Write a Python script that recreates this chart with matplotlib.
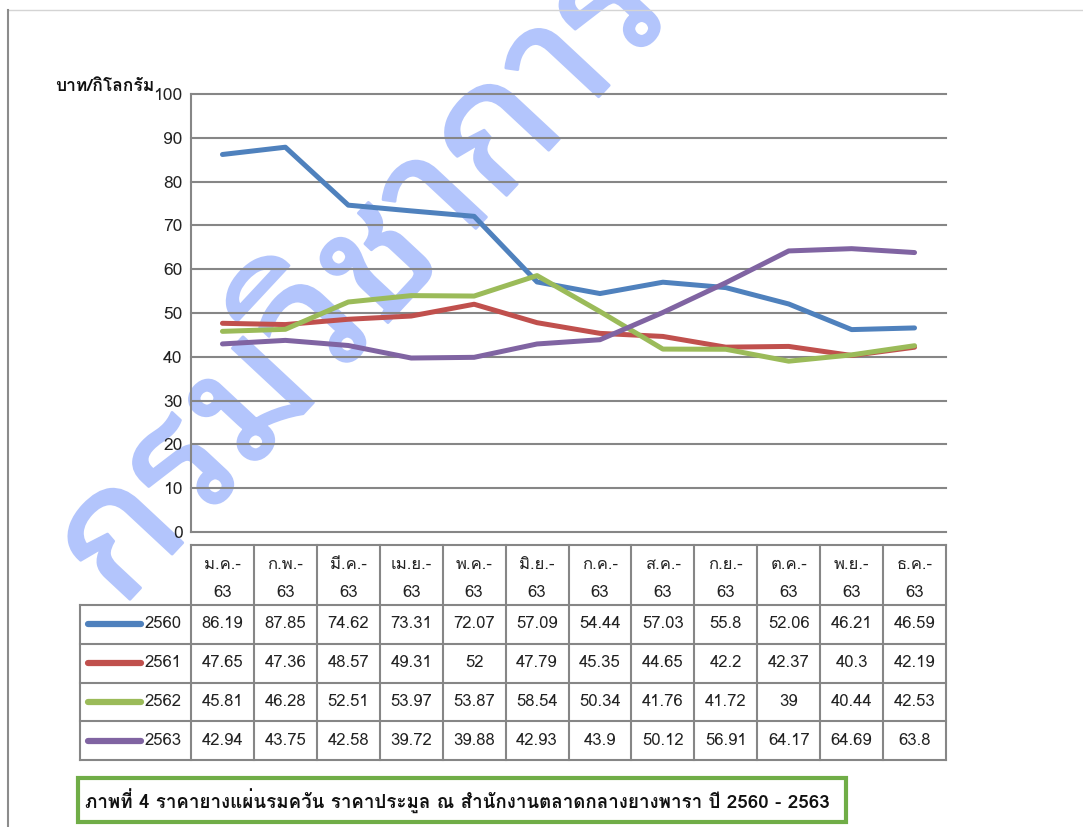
import matplotlib
matplotlib.use("Agg")
import matplotlib.pyplot as plt
import matplotlib.patheffects as pe
from matplotlib.patches import Rectangle
from matplotlib.lines import Line2D

plt.rcParams['font.family'] = ['Loma', 'Noto Sans Thai Looped', 'DejaVu Sans']

# data
months = ['ม.ค.', 'ก.พ.', 'มี.ค.', 'เม.ย.', 'พ.ค.', 'มิ.ย.',
          'ก.ค.', 'ส.ค.', 'ก.ย.', 'ต.ค.', 'พ.ย.', 'ธ.ค.']
year_suffix = '63'
series_names = ['2560', '2561', '2562', '2563']
v2560 = [86.19, 87.85, 74.62, 73.31, 72.07, 57.09, 54.44, 57.03, 55.8, 52.06, 46.21, 46.59]
v2561 = [47.65, 47.36, 48.57, 49.31, 52, 47.79, 45.35, 44.65, 42.2, 42.37, 40.3, 42.19]
v2562 = [45.81, 46.28, 52.51, 53.97, 53.87, 58.54, 50.34, 41.76, 41.72, 39, 40.44, 42.53]
v2563 = [42.94, 43.75, 42.58, 39.72, 39.88, 42.93, 43.9, 50.12, 56.91, 64.17, 64.69, 63.8]
series_vals = [v2560, v2561, v2562, v2563]
colors = ['#4F81BD', '#C0504D', '#9BBB59', '#8064A2']
yticks = list(range(0, 101, 10))
ylabel = 'บาท/กิโลกรัม'
caption = 'ภาพที่ 4 ราคายางแผ่นรมควัน ราคาประมูล ณ สำนักงานตลาดกลางยางพารา ปี 2560 - 2563'
watermark = 'กรมวิชาการเกษตร'

W, H = 1083, 827
GRID = '#868686'

def frect(x0, y0, x1, y1):
    # pixel box (top-left origin) -> figure fraction
    return [x0 / W, 1 - y1 / H, (x1 - x0) / W, (y1 - y0) / H]

fig = plt.figure(figsize=(W / 100, H / 100), dpi=100)

# frame lines of the page
fig.add_artist(Line2D([8 / W, 1], [1 - 10 / H] * 2, color='#d4d4d4', lw=1))
fig.add_artist(Line2D([8 / W] * 2, [0, 1 - 10 / H], color='#8c8c8c', lw=1.5))

# ---- chart
ax = fig.add_axes(frect(191, 94, 946, 532))
x = list(range(len(months)))
ax.set_xlim(-0.5, len(months) - 0.5)
ax.set_ylim(0, 100)
for t in yticks:
    ax.axhline(t, color=GRID, lw=1.5, clip_on=False, zorder=1)
for s in ['top', 'right', 'bottom']:
    ax.spines[s].set_visible(False)
ax.spines['left'].set_color(GRID)
ax.spines['left'].set_linewidth(1.5)
ax.set_yticks(yticks)
ax.tick_params(axis='y', length=0, pad=6, labelsize=12.5, labelcolor='#222222')
ax.set_xticks([])
ax.patch.set_alpha(0)

for vals, c in zip(series_vals, colors):
    ax.plot(x, vals, color=c, lw=3.6, solid_capstyle='round',
            solid_joinstyle='round', zorder=3)

fig.text(55 / W, 1 - 91 / H, ylabel, fontsize=12.5, fontweight='bold',
         va='baseline', ha='left', color='#111111')

# ---- data table under the chart (shares the chart's x scale)
tab = fig.add_axes(frect(191, 545, 946, 760))
tab.set_xlim(-0.5, len(months) - 0.5)
tab.set_ylim(215, 0)
tab.axis('off')
col_w = 755 / len(months)
leg_left = -0.5 - 111 / col_w
head_h = 60
row_h = (215 - head_h) / len(series_names)

kw = dict(color=GRID, lw=1.5, clip_on=False)
tab.plot([-0.5, len(months) - 0.5], [0, 0], **kw)
for k in range(len(series_names) + 1):
    yy = head_h + k * row_h
    tab.plot([leg_left, len(months) - 0.5], [yy, yy], **kw)
for i in range(len(months) + 1):
    tab.plot([i - 0.5, i - 0.5], [0, 215], **kw)
tab.plot([leg_left, leg_left], [head_h, 215], **kw)

for i, m in enumerate(months):
    tab.text(i, 20, m + '-', ha='center', va='center', fontsize=12, color='#222222')
    tab.text(i, 48, year_suffix, ha='center', va='center', fontsize=12, color='#222222')

for k, (name, vals, c) in enumerate(zip(series_names, series_vals, colors)):
    yc = head_h + (k + 0.5) * row_h
    tab.plot([leg_left + 0.12, leg_left + 0.97], [yc, yc], color=c, lw=4.5,
             solid_capstyle='round', clip_on=False)
    tab.text(leg_left + 1.03, yc, name, ha='left', va='center', fontsize=12,
             color='#222222')
    for i, v in enumerate(vals):
        tab.text(i, yc, f'{v:g}', ha='center', va='center', fontsize=12,
                 color='#222222')

# ---- caption box
fig.add_artist(Rectangle((78 / W, 1 - 822 / H), (846 - 78) / W, 44 / H,
                         transform=fig.transFigure, fill=False,
                         edgecolor='#70AD47', lw=3))
fig.text(85 / W, 1 - 801 / H, caption, fontsize=13.5, fontweight='bold',
         ha='left', va='center', color='#111111')

# ---- watermark (light, behind the chart so the lines stay on top)
WM = '#B3C5FC'
fig.text(120 / W, 1 - 610 / H, watermark, fontsize=125, fontweight='bold',
         family=['Noto Sans Thai Looped', 'Loma'],
         color=WM, rotation=47, rotation_mode='anchor',
         ha='left', va='baseline', zorder=-1,
         path_effects=[pe.Stroke(linewidth=2, foreground=WM), pe.Normal()])

fig.savefig('out.png', dpi=100)
